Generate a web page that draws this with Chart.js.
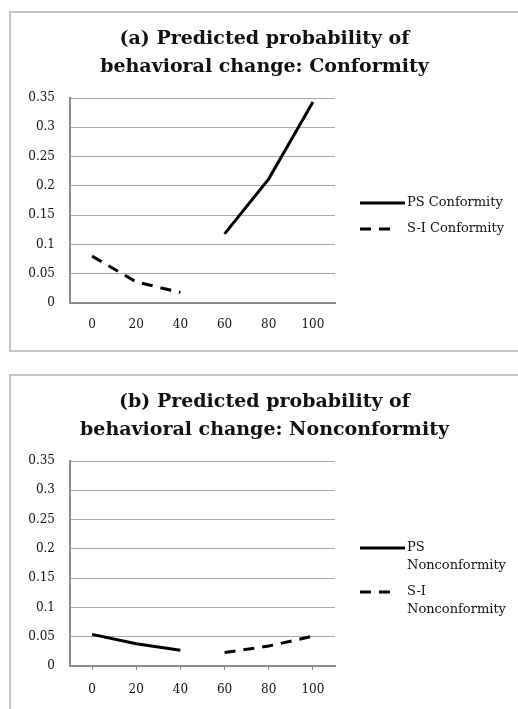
<!DOCTYPE html>
<html>
<head>
<meta charset="utf-8">
<script src="https://cdn.jsdelivr.net/npm/chart.js@4.4.0/dist/chart.umd.min.js"></script>
<style>
  html, body { margin: 0; padding: 0; background: #fff; overflow: hidden; }
  body { width: 518px; height: 709px; position: relative; }
  .box { position: absolute; left: 9px; width: 600px; border: 2px solid #c4c4c4; background: #fff; }
  #boxa { top: 11px; height: 337px; }
  #boxb { top: 374px; height: 340px; }
  canvas { position: absolute; left: 0; top: 0; }
</style>
</head>
<body>
<div class="box" id="boxa"><canvas id="chartA" width="507" height="337"></canvas></div>
<div class="box" id="boxb"><canvas id="chartB" width="507" height="337"></canvas></div>
<script>
// values
var xLabels = ["0", "20", "40", "60", "80", "100"];
var psConformity = [null, null, null, 0.118, 0.212, 0.343];
var siConformity = [0.080, 0.036, 0.018, null, null, null];
var psNonconformity = [0.054, 0.038, 0.027, null, null, null];
var siNonconformity = [null, null, null, 0.023, 0.034, 0.051];
var yMax = 0.35;
var yStep = 0.05;

var titleA = ["(a) Predicted probability of", "behavioral change: Conformity"];
var titleB = ["(b) Predicted probability of", "behavioral change: Nonconformity"];

var serif = "'DejaVu Serif', 'Liberation Serif', serif";
var dashPattern = [11, 8];

// legend drawn at the right of the plot, wraps long labels like the original
var sideLegend = {
  id: "sideLegend",
  afterDraw: function(chart) {
    var ctx = chart.ctx;
    var area = chart.chartArea;
    var lineH = 18, gap = 8, maxW = 112;
    ctx.save();
    ctx.font = "13px " + serif;
    var entries = chart.data.datasets.map(function(ds) {
      var words = ds.label.split(" ");
      var lines = [], cur = "";
      words.forEach(function(w) {
        var test = cur ? cur + " " + w : w;
        if (cur && ctx.measureText(test).width > maxW) {
          lines.push(cur);
          cur = w;
        } else {
          cur = test;
        }
      });
      lines.push(cur);
      return { ds: ds, lines: lines };
    });
    var total = 0;
    entries.forEach(function(e, i) {
      total += e.lines.length * lineH + (i > 0 ? gap : 0);
    });
    var y = 203 - total / 2;
    var x0 = area.right + 25;
    entries.forEach(function(e) {
      var yc = y + lineH / 2;
      ctx.strokeStyle = e.ds.borderColor;
      ctx.lineWidth = e.ds.borderWidth;
      ctx.setLineDash(e.ds.borderDash || []);
      ctx.beginPath();
      ctx.moveTo(x0, yc);
      ctx.lineTo(e.ds.borderDash ? x0 + 31 : x0 + 45, yc);
      ctx.stroke();
      ctx.setLineDash([]);
      ctx.fillStyle = "#111";
      ctx.textBaseline = "middle";
      ctx.textAlign = "left";
      e.lines.forEach(function(t, k) {
        ctx.fillText(t, x0 + 47, yc + k * lineH);
      });
      y += e.lines.length * lineH + gap;
    });
    ctx.restore();
  }
};

function makeChart(id, title, solid, dashed, showTicks) {
  var ctx = document.getElementById(id);
  return new Chart(ctx, {
    type: "line",
    data: {
      labels: xLabels,
      datasets: [
        {
          label: solid.label,
          data: solid.data,
          borderColor: "#000",
          borderWidth: 3,
          pointRadius: 0,
          tension: 0
        },
        {
          label: dashed.label,
          data: dashed.data,
          borderColor: "#000",
          borderWidth: 3,
          borderDash: dashPattern,
          pointRadius: 0,
          tension: 0
        }
      ]
    },
    options: {
      responsive: false,
      animation: false,
      plugins: {
        legend: { display: false },
        tooltip: { enabled: false },
        title: {
          display: true,
          text: title,
          color: "#111",
          font: { family: serif, size: 19, weight: "bold", lineHeight: "28px" },
          padding: { top: 12, bottom: 17 }
        }
      },
      scales: {
        x: {
          type: "category",
          offset: true,
          grid: {
            display: showTicks,
            drawOnChartArea: false,
            drawTicks: showTicks,
            tickLength: 4,
            color: "#8c8c8c"
          },
          border: { color: "#8c8c8c", width: 2 },
          ticks: {
            color: "#111",
            font: { family: serif, size: 12 },
            padding: showTicks ? 13 : 15,
            maxRotation: 0,
            autoSkip: false
          },
          afterFit: function(scale) {
            scale.height = 47;
          }
        },
        y: {
          min: 0,
          max: yMax,
          grid: { color: "#a8a8a8", lineWidth: 1, drawTicks: false },
          border: { color: "#8c8c8c", width: 2 },
          ticks: {
            stepSize: yStep,
            color: "#111",
            font: { family: serif, size: 12 },
            padding: 15,
            callback: function(v) {
              return String(+v.toFixed(2));
            }
          },
          afterFit: function(scale) {
            scale.width = 59;
          }
        },
        // empty right-hand space for the legend, keeps the title centred on the whole box
        legendSpace: {
          position: "right",
          min: 0,
          max: 1,
          grid: { display: false, drawTicks: false },
          border: { display: false },
          ticks: { display: false },
          afterFit: function(scale) {
            scale.width = 183;
          }
        }
      }
    },
    plugins: [sideLegend]
  });
}

makeChart("chartA", titleA,
  { label: "PS Conformity", data: psConformity },
  { label: "S-I Conformity", data: siConformity },
  false);

makeChart("chartB", titleB,
  { label: "PS Nonconformity", data: psNonconformity },
  { label: "S-I Nonconformity", data: siNonconformity },
  true);
</script>
</body>
</html>
